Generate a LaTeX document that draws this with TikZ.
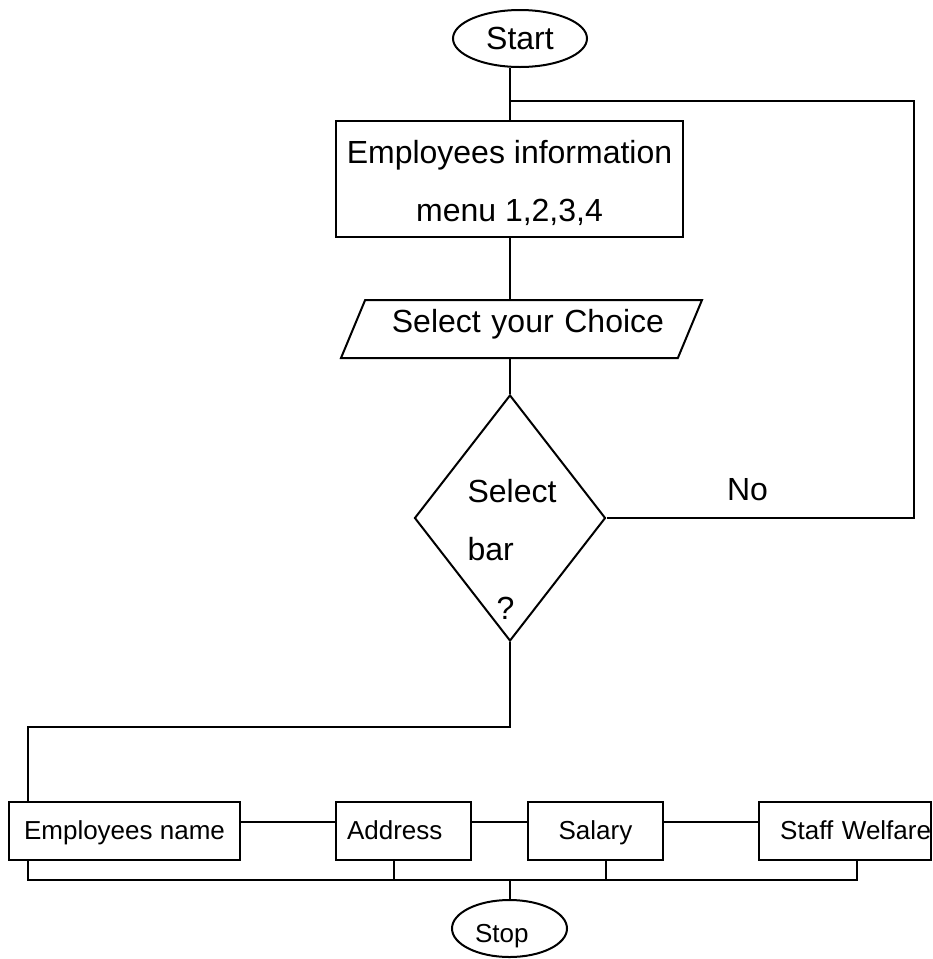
\documentclass[tikz,border=0pt]{standalone}
\usepackage{fontspec}
\setmainfont{Liberation Sans}
\usetikzlibrary{positioning}
\usetikzlibrary{shapes.geometric}

\begin{document}
\begin{tikzpicture}[x=1pt, y=-1pt, line width=2pt,
	box/.style={draw, rectangle, inner sep=0pt},
	term/.style={draw, ellipse, inner sep=0pt, minimum height=57pt},
	bigtxt/.style={font=\fontsize{32}{58.5}\selectfont},
	smalltxt/.style={font=\fontsize{26}{30}\selectfont, text height=20pt, text depth=4pt}]
		\useasboundingbox (0, 0) rectangle (933, 959);
		\node[term, bigtxt, minimum width=134pt] (start) at (520, 38.5) {Start};
		\node[box, bigtxt, align=center, minimum width=347pt, minimum height=116pt] (info) at (509.5, 179) {\rule{0pt}{31pt}Employees information\\menu 1,2,3,4};
		\node[draw, trapezium, trapezium left angle=59, trapezium right angle=121, trapezium stretches body, inner sep=0pt, minimum height=58pt, minimum width=361pt, bigtxt, text depth=17pt, text width=285pt, align=right] (choice) at (521.5, 329) {Select your Choice};
		\node[draw, diamond, inner sep=0pt, minimum width=191pt, minimum height=246pt] (sel) at (510, 518) {};
		\node[bigtxt, align=left] (seltxt) at (512, 549) {Select\\bar\\\hspace*{29pt}?};
		\node[bigtxt] (no) at (747.5, 490) {No};
		\node[box, smalltxt, minimum width=231pt, minimum height=58pt] (empname) at (124.5, 831) {Employees name};
		\node[box, smalltxt, minimum width=135pt, minimum height=58pt, text width=113pt, align=left] (addr) at (403.5, 831) {Address};
		\node[box, smalltxt, minimum width=135pt, minimum height=58pt] (salary) at (595.5, 831) {Salary};
		\node[box, smalltxt, minimum height=58pt, text width=172pt, align=right] (welfare) at (845, 831) {Staff Welfare};
		\node[term, smalltxt, text height=27pt, text depth=0pt, text width=69pt, align=left, minimum width=115pt] (stop) at (509.5, 928.5) {Stop};
		\coordinate (fork) at (510, 101);
		\coordinate (loop) at (914, 101);
		\coordinate (split) at (510, 727);
		\coordinate (splitleft) at (28, 727);
		\coordinate (busleft) at (28, 880);
		\coordinate (busright) at (857, 880);
		\coordinate (dropaddr) at (394, 880);
		\coordinate (dropsal) at (606, 880);
		\draw (start.south -| info.north) -- (info.north);
		\draw (fork) -- (loop) -- (loop |- sel.east) -- (sel.east);
		\draw (info.south) -- (info.south |- choice.north);
		\draw (choice.south -| sel.north) -- (sel.north);
		\draw (sel.south) -- (split) -- (splitleft) -- (splitleft |- empname.north);
		\foreach \a/\b in {empname/addr, addr/salary, salary/welfare}
			\draw ([yshift=9pt]\a.east) -- ([yshift=9pt]\b.west);
		\draw (splitleft |- empname.south) -- (busleft) -- (busright) -- (busright |- welfare.south);
		\draw (dropaddr |- addr.south) -- (dropaddr);
		\draw (dropsal |- salary.south) -- (dropsal);
		\draw (stop.north |- busleft) -- (stop.north);
\end{tikzpicture}
\end{document}
